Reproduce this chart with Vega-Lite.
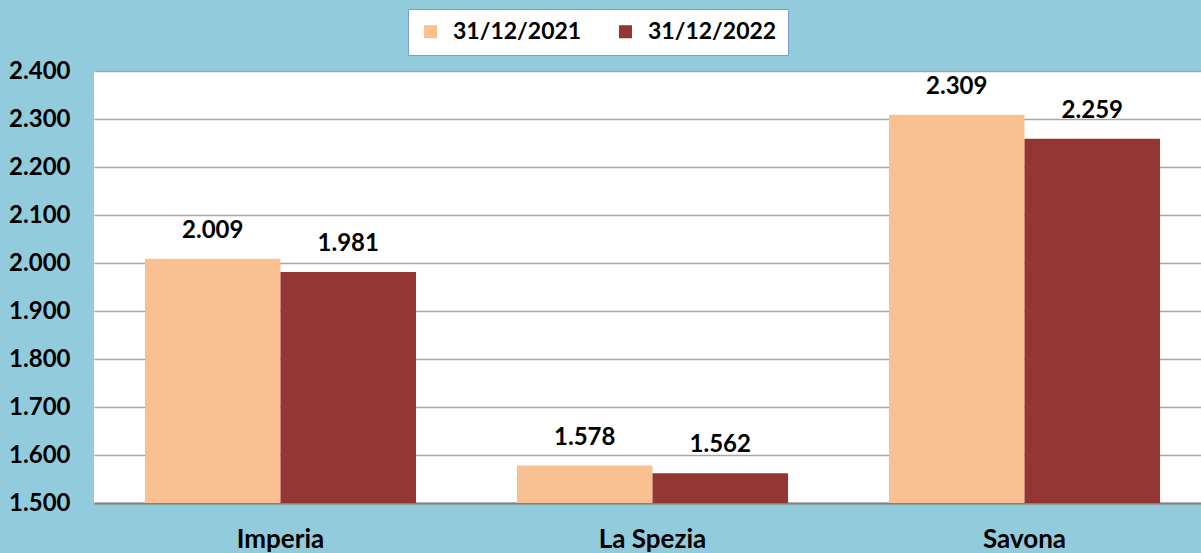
{
  "$schema": "https://vega.github.io/schema/vega-lite/v6.json",
  "autosize": "none",
  "width": 1107,
  "height": 432,
  "padding": {"left": 94, "top": 71, "right": 0, "bottom": 50},
  "background": "#92CBDC",
  "config": {
    "view": {"fill": "white", "stroke": null},
    "font": "Lato"
  },
  "data": {
    "values": [
      {"provincia": "Imperia", "data": "31/12/2021", "valore": 2.009},
      {"provincia": "Imperia", "data": "31/12/2022", "valore": 1.981},
      {"provincia": "La Spezia", "data": "31/12/2021", "valore": 1.578},
      {"provincia": "La Spezia", "data": "31/12/2022", "valore": 1.562},
      {"provincia": "Savona", "data": "31/12/2021", "valore": 2.309},
      {"provincia": "Savona", "data": "31/12/2022", "valore": 2.259}
    ]
  },
  "encoding": {
    "x": {
      "field": "provincia", "type": "nominal", "sort": null,
      "scale": {"paddingInner": 0.2715, "paddingOuter": 0.137, "range": [0, 1117]},
      "axis": {
        "title": null, "labelAngle": 0, "labelFont": "Lato", "labelFontWeight": "bold",
        "labelFontSize": 26, "labelColor": "black", "labelPadding": 23, "ticks": false,
        "domainColor": "#808080", "domainWidth": 2
      }
    },
    "xOffset": {"field": "data", "type": "nominal", "scale": {"paddingInner": 0, "paddingOuter": 0}},
    "y": {
      "field": "valore", "type": "quantitative",
      "scale": {"domain": [1.5, 2.4], "zero": false, "nice": false},
      "axis": {
        "title": null, "values": [1.5, 1.6, 1.7, 1.8, 1.9, 2.0, 2.1, 2.2, 2.3, 2.4],
        "format": ".3f", "labelFont": "Lato", "labelFontWeight": "bold", "labelFontSize": 24,
        "labelColor": "black", "labelPadding": 24, "ticks": false, "domain": false,
        "gridColor": "#A6A6A6", "gridWidth": 1.5
      }
    }
  },
  "layer": [
    {
      "mark": {"type": "bar", "clip": true},
      "encoding": {
        "color": {
          "field": "data", "type": "nominal",
          "scale": {"domain": ["31/12/2021", "31/12/2022"], "range": ["#F9C192", "#943634"]},
          "legend": {
            "title": null, "orient": "none", "direction": "horizontal",
            "legendX": 314, "legendY": -62,
            "fillColor": "white", "strokeColor": "#7A9CD3", "padding": 11,
            "symbolType": "square", "symbolSize": 170, "symbolStrokeWidth": 0,
            "labelFont": "Lato", "labelFontWeight": "bold", "labelFontSize": 23,
            "labelColor": "black", "labelOffset": 11, "columnPadding": 32
          }
        }
      }
    },
    {
      "mark": {"type": "text", "baseline": "bottom", "dy": -16, "fontSize": 24, "fontWeight": "bold", "font": "Lato", "color": "black"},
      "encoding": {
        "text": {"field": "valore", "type": "quantitative", "format": ".3f"}
      }
    }
  ]
}
